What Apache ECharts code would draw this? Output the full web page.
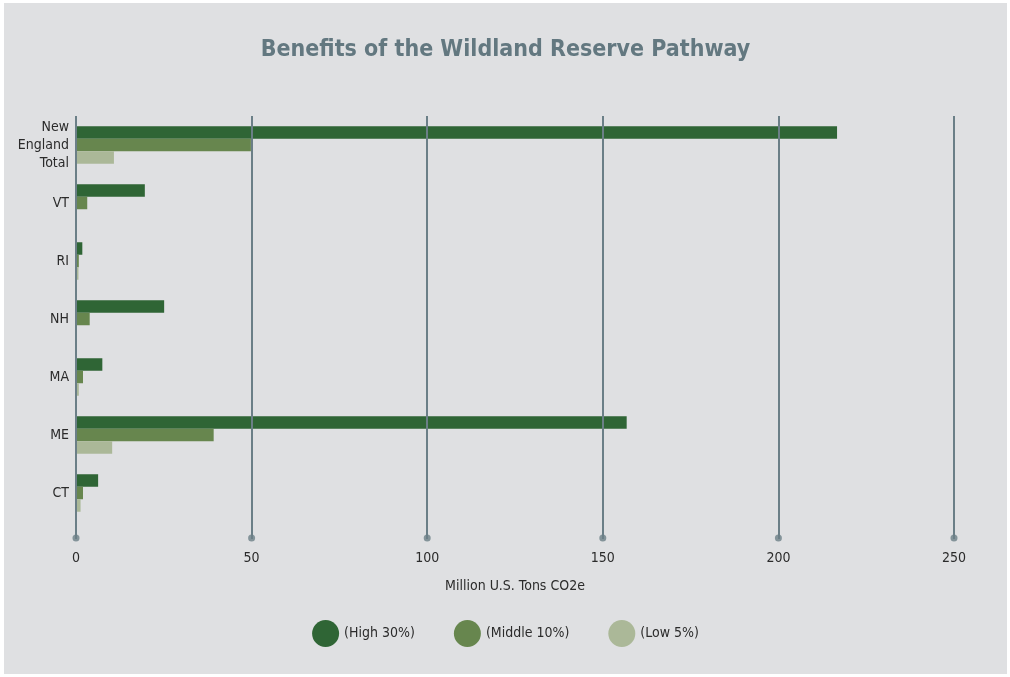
<!DOCTYPE html>
<html>
<head>
<meta charset="utf-8">
<script src="https://cdn.jsdelivr.net/npm/echarts@6/dist/echarts.min.js"></script>
<style>
  html, body { margin: 0; padding: 0; background: #ffffff; width: 1010px; height: 677px; overflow: hidden; }
  #chart { position: absolute; left: 4px; top: 3px; width: 1003px; height: 671px; }
</style>
</head>
<body>
<div id="chart"></div>
<script>
const categories = ['New England Total', 'VT', 'RI', 'NH', 'MA', 'ME', 'CT'];
const highValues = [216.7, 19.6, 1.8, 25.1, 7.5, 156.8, 6.3];
const middleValues = [49.8, 3.2, 0.8, 3.9, 2.0, 39.2, 2.0];
const lowValues = [10.8, 0, 0.7, 0, 0.8, 10.3, 1.3];
const seriesNames = ['(High 30%)', '(Middle 10%)', '(Low 5%)'];
const xTicks = [0, 50, 100, 150, 200, 250];

const FONT = "'Liberation Sans Narrow', 'DejaVu Sans Condensed', 'Liberation Sans', sans-serif";
const GRID_COLOR = '#6b7f87';
const colors = ['#2f6535', '#67864e', '#abb898'];

const chart = echarts.init(document.getElementById('chart'), null, { renderer: 'canvas' });
chart.setOption({
  backgroundColor: '#dfe0e2',
  animation: false,
  textStyle: { fontFamily: FONT },
  title: {
    text: 'Benefits of the Wildland Reserve Pathway',
    left: 'center',
    top: 31,
    textStyle: { fontFamily: FONT, fontSize: 23, fontWeight: 'bold', color: '#637880' }
  },
  legend: {
    data: seriesNames,
    bottom: 22,
    left: 'center',
    icon: 'circle',
    itemWidth: 27,
    itemHeight: 27,
    itemGap: 39,
    textStyle: { fontFamily: FONT, fontSize: 14, color: '#2b2b2b' }
  },
  grid: [
    { left: 72, right: 53, top: 113, bottom: 152, containLabel: false },
    { left: 72, right: 53, top: 528, height: 14, containLabel: false }
  ],
  xAxis: [
    {
      type: 'value',
      gridIndex: 0,
      min: 0,
      max: 250,
      interval: 50,
      z: 5,
      axisLine: { show: false },
      axisTick: { show: true, inside: false, length: 17, lineStyle: { color: GRID_COLOR, width: 2 } },
      splitLine: { show: true, lineStyle: { color: GRID_COLOR, width: 2 } },
      axisLabel: { margin: 29, fontFamily: FONT, fontSize: 14, color: '#2b2b2b' },
      name: 'Million U.S. Tons CO2e',
      nameLocation: 'middle',
      nameGap: 57,
      nameTextStyle: { fontFamily: FONT, fontSize: 14, color: '#2b2b2b' }
    },
    { type: 'value', gridIndex: 1, min: 0, max: 250, show: false }
  ],
  yAxis: [
    {
      type: 'category',
      gridIndex: 0,
      data: categories,
      inverse: true,
      axisLine: { show: false },
      axisTick: { show: false },
      splitLine: { show: false },
      axisLabel: {
        margin: 7,
        fontFamily: FONT,
        fontSize: 14,
        lineHeight: 18,
        color: '#2b2b2b',
        formatter: v => v.split(' ').join('\n')
      }
    },
    { type: 'category', gridIndex: 1, data: [''], show: false }
  ],
  series: [
    { name: seriesNames[0], type: 'bar', data: highValues, barWidth: 12.5, barGap: '0%', itemStyle: { color: colors[0] } },
    { name: seriesNames[1], type: 'bar', data: middleValues, barWidth: 12.5, barGap: '0%', itemStyle: { color: colors[1] } },
    { name: seriesNames[2], type: 'bar', data: lowValues, barWidth: 12.5, barGap: '0%', itemStyle: { color: colors[2] } },
    {
      type: 'scatter',
      xAxisIndex: 1,
      yAxisIndex: 1,
      data: xTicks.map(v => [v, 0]),
      symbolSize: 7,
      itemStyle: { color: GRID_COLOR },
      silent: true,
      legendHoverLink: false
    }
  ]
});
</script>
</body>
</html>
